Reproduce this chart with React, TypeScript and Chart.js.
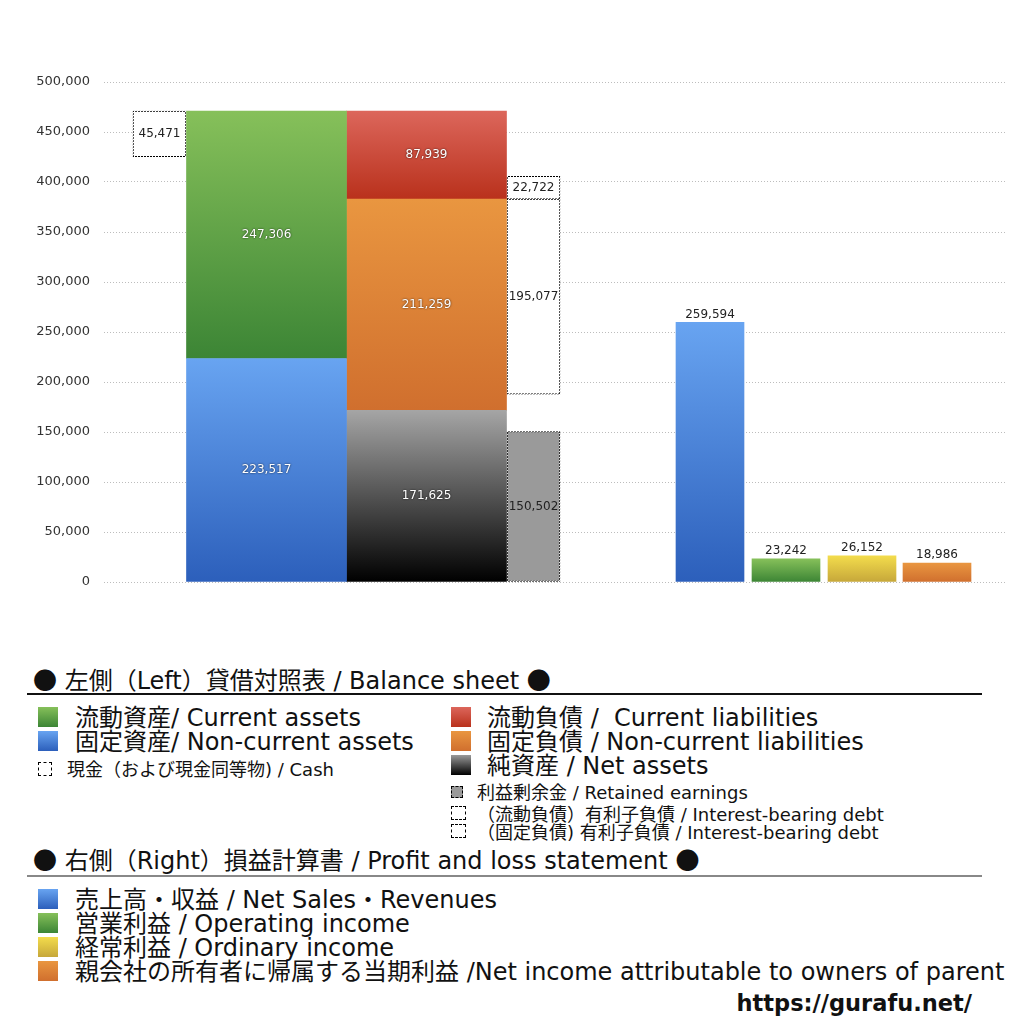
import { useEffect, useRef } from "react";
import { Chart, registerables } from "chart.js";

Chart.register(...registerables);

// 貸借対照表 (left side)
const assetNames = ["流動資産", "固定資産"];
const assetValues = [247306, 223517];
const cashValue = 45471;
const liabilityNames = ["流動負債", "固定負債", "純資産"];
const liabilityValues = [87939, 211259, 171625];
const retainedEarnings = 150502;
const debtNames = ["（流動負債）有利子負債", "（固定負債) 有利子負債"];
const debtValues = [22722, 195077];

// 損益計算書 (right side)
const plNames = ["売上高・収益", "営業利益", "経常利益", "親会社の所有者に帰属する当期利益"];
const plValues = [259594, 23242, 26152, 18986];

// y axis ticks
const yMax = 500000;
const yStep = 50000;

const FONT_JP = "'Noto Sans CJK JP', sans-serif";
const FONT_MIX = "'DejaVu Sans', 'Noto Sans CJK JP', sans-serif";

const colors = {
  green: ["#86c05a", "#3c8535"],
  blue: ["#68a4f1", "#2c5fbb"],
  red: ["#dc665b", "#b9311c"],
  orange: ["#e99640", "#d06f2e"],
  gray: ["#a5a5a5", "#000000"],
  yellow: ["#f3dc4c", "#c6a73a"],
};
const plColors = [colors.blue, colors.green, colors.yellow, colors.orange];

function vGrad(pair: string[]) {
  return (c: any) => {
    const chart = c.chart;
    const raw = c.raw;
    if (!chart.chartArea || !raw || !chart.scales.y) return pair[1];
    const ys = chart.scales.y;
    const g = chart.ctx.createLinearGradient(
      0,
      ys.getPixelForValue(raw.y[1]),
      0,
      ys.getPixelForValue(raw.y[0])
    );
    g.addColorStop(0, pair[0]);
    g.addColorStop(1, pair[1]);
    return g;
  };
}

// 2 on / 1 off dotted border, used as the bar's borderColor
function dotPattern() {
  const p = document.createElement("canvas");
  p.width = 3;
  p.height = 3;
  const g = p.getContext("2d")!;
  g.fillStyle = "#000";
  for (let x = 0; x < 3; x++)
    for (let y = 0; y < 3; y++) if ((x + y) % 3 !== 2) g.fillRect(x, y, 1, 1);
  return g.createPattern(p, "repeat") ?? "#000";
}

const valueLabels = {
  id: "valueLabels",
  afterDatasetsDraw(chart: any) {
    const ctx = chart.ctx;
    chart.data.datasets.forEach((ds: any, i: number) => {
      const meta = chart.getDatasetMeta(i);
      meta.data.forEach((bar: any, j: number) => {
        const raw = ds.data[j];
        const text = (raw.y[1] - raw.y[0]).toLocaleString("en-US");
        const { x, y, base } = bar.getProps(["x", "y", "base"], true);
        ctx.save();
        ctx.font = "12px 'DejaVu Sans'";
        ctx.textAlign = "center";
        ctx.textBaseline = "middle";
        if (ds.labelStyle === "inside") {
          ctx.shadowColor = "rgba(0,0,0,0.8)";
          ctx.shadowBlur = 2;
          ctx.fillStyle = "#fff";
          ctx.fillText(text, x, (y + base) / 2);
        } else if (ds.labelStyle === "box") {
          ctx.fillStyle = "#222";
          ctx.fillText(text, x, (y + base) / 2);
        } else {
          ctx.fillStyle = "#222";
          ctx.fillText(text, x, y - 8);
        }
        ctx.restore();
      });
    });
  },
};

function BalanceChart() {
  const canvasRef = useRef<HTMLCanvasElement | null>(null);

  useEffect(() => {
    if (!canvasRef.current) return;
    const dots = dotPattern();

    // column centres on a hidden linear x axis (0..901 = plot width)
    const col = { cash: 55.5, assets: 162.5, liab: 322.5, side: 429.5 };
    const plCol = [606, 682, 758, 833];

    const totalAssets = assetValues[0] + assetValues[1];
    const netTop = liabilityValues[2];
    const fixedTop = netTop + liabilityValues[1];
    const currentTop = fixedTop + liabilityValues[0];

    const solid = (label: string, x: number, lo: number, hi: number, pair: string[], w: number) => ({
      label,
      data: [{ x, y: [lo, hi] }],
      backgroundColor: vGrad(pair),
      barThickness: w,
      labelStyle: "inside",
    });
    const box = (label: string, x: number, lo: number, hi: number, fill: string) => ({
      label,
      data: [{ x, y: [lo, hi] }],
      backgroundColor: fill,
      borderColor: dots,
      borderWidth: 1,
      borderSkipped: false,
      barThickness: 53,
      labelStyle: "box",
    });

    const chart = new Chart(canvasRef.current, {
      type: "bar",
      data: {
        datasets: [
          solid(assetNames[1], col.assets, 0, assetValues[1], colors.blue, 160),
          solid(assetNames[0], col.assets, assetValues[1], totalAssets, colors.green, 160),
          box("現金", col.cash, totalAssets - cashValue, totalAssets, "#ffffff"),
          solid(liabilityNames[2], col.liab, 0, netTop, colors.gray, 160),
          solid(liabilityNames[1], col.liab, netTop, fixedTop, colors.orange, 160),
          solid(liabilityNames[0], col.liab, fixedTop, currentTop, colors.red, 160),
          box("利益剰余金", col.side, 0, retainedEarnings, "#9a9a9a"),
          box(debtNames[1], col.side, fixedTop - debtValues[1], fixedTop, "#ffffff"),
          box(debtNames[0], col.side, fixedTop, fixedTop + debtValues[0], "#ffffff"),
          {
            label: "損益計算書",
            data: plValues.map((v, i) => ({ x: plCol[i], y: [0, v] })),
            backgroundColor: (c: any) => vGrad(plColors[c.dataIndex % plColors.length])(c),
            barThickness: 68,
            labelStyle: "top",
          },
        ] as any,
      },
      options: {
        animation: false,
        responsive: false,
        layout: { padding: { left: 0, right: 19, top: 82, bottom: 28 } },
        datasets: { bar: { grouped: false } },
        plugins: { legend: { display: false }, tooltip: { enabled: false } },
        scales: {
          x: { type: "linear", min: 0, max: 901, offset: false, display: false },
          y: {
            min: 0,
            max: yMax,
            afterFit: (scale: any) => {
              scale.width = 104;
            },
            ticks: {
              stepSize: yStep,
              padding: 14,
              color: "#333",
              font: { family: "'DejaVu Sans'", size: 13 },
              callback: (v: any) => Number(v).toLocaleString("en-US"),
            },
            grid: { color: "#bdbdbd", lineWidth: 1, drawTicks: false },
            border: { display: false, dash: [1, 2] },
          },
        },
      } as any,
      plugins: [valueLabels],
    });

    return () => {
      chart.destroy();
    };
  }, []);

  return (
    <div style={{ position: "absolute", left: 0, top: 0, width: 1024, height: 610 }}>
      <canvas ref={canvasRef} width={1024} height={610} />
    </div>
  );
}

function Line(props: { x: number; cy: number; size: number; children: any; bold?: boolean; right?: boolean }) {
  const lh = props.size + 4;
  return (
    <div
      style={{
        position: "absolute",
        left: props.right ? undefined : props.x,
        right: props.right ? 1024 - props.x : undefined,
        top: props.cy - lh / 2 + 1,
        fontSize: props.size,
        lineHeight: lh + "px",
        fontFamily: FONT_MIX,
        fontWeight: props.bold ? 700 : 400,
        whiteSpace: "pre",
        color: "#111",
      }}
    >
      {props.children}
    </div>
  );
}

const Dot = () => <span style={{ fontFamily: FONT_JP }}>●</span>;

function Swatch(props: { x: number; y: number; w: number; h: number; pair?: string[]; fill?: string; dotted?: boolean }) {
  return (
    <div
      style={{
        position: "absolute",
        left: props.x,
        top: props.y,
        width: props.w,
        height: props.h,
        boxSizing: "border-box",
        background: props.pair
          ? `linear-gradient(to bottom, ${props.pair[0]}, ${props.pair[1]})`
          : props.fill,
        border: props.dotted ? "1px dashed #000" : undefined,
      }}
    />
  );
}

export default function App() {
  return (
    <div style={{ position: "absolute", left: 0, top: 0, width: 1024, height: 1024, background: "#fff" }}>
      <BalanceChart />

      <Line x={33} cy={678} size={24}><Dot /> 左側（Left）貸借対照表 / Balance sheet <Dot /></Line>
      <div style={{ position: "absolute", left: 27, top: 693, width: 955, height: 2, background: "#111" }} />

      <Swatch x={38} y={707} w={20} h={20} pair={colors.green} />
      <Line x={75} cy={717} size={24}>{assetNames[0]}/ Current assets</Line>
      <Swatch x={38} y={731} w={20} h={20} pair={colors.blue} />
      <Line x={75} cy={741} size={24}>{assetNames[1]}/ Non-current assets</Line>
      <Swatch x={38} y={762} w={14} h={14} fill="#fff" dotted />
      <Line x={67} cy={769} size={18}>現金（および現金同等物) / Cash</Line>

      <Swatch x={451} y={707} w={20} h={20} pair={colors.red} />
      <Line x={487} cy={717} size={24}>{liabilityNames[0]} /  Current liabilities</Line>
      <Swatch x={451} y={731} w={20} h={20} pair={colors.orange} />
      <Line x={487} cy={741} size={24}>{liabilityNames[1]} / Non-current liabilities</Line>
      <Swatch x={451} y={755} w={20} h={20} pair={["#9a9a9a", "#000"]} />
      <Line x={487} cy={765} size={24}>{liabilityNames[2]} / Net assets</Line>

      <Swatch x={451} y={786} w={12} h={12} fill="#9a9a9a" dotted />
      <Line x={477} cy={792} size={18}>利益剰余金 / Retained earnings</Line>
      <Swatch x={451} y={806} w={15} h={14} fill="#fff" dotted />
      <Line x={477} cy={814} size={18}>{debtNames[0]} / Interest-bearing debt</Line>
      <Swatch x={451} y={824} w={15} h={14} fill="#fff" dotted />
      <Line x={477} cy={832} size={18}>{debtNames[1]} / Interest-bearing debt</Line>

      <Line x={33} cy={858} size={24}><Dot /> 右側（Right）損益計算書 / Profit and loss statement <Dot /></Line>
      <div style={{ position: "absolute", left: 27, top: 875, width: 955, height: 2, background: "#888" }} />

      <Swatch x={38} y={889} w={20} h={20} pair={colors.blue} />
      <Line x={75} cy={899} size={24}>{plNames[0]} / Net Sales・Revenues</Line>
      <Swatch x={38} y={913} w={20} h={20} pair={colors.green} />
      <Line x={75} cy={923} size={24}>{plNames[1]} / Operating income</Line>
      <Swatch x={38} y={937} w={20} h={20} pair={colors.yellow} />
      <Line x={75} cy={947} size={24}>{plNames[2]} / Ordinary income</Line>
      <Swatch x={38} y={961} w={20} h={20} pair={colors.orange} />
      <Line x={75} cy={971} size={24}>{plNames[3]} /Net income attributable to owners of parent</Line>

      <Line x={972} cy={1002} size={22.5} bold right>https://gurafu.net/</Line>
    </div>
  );
}
